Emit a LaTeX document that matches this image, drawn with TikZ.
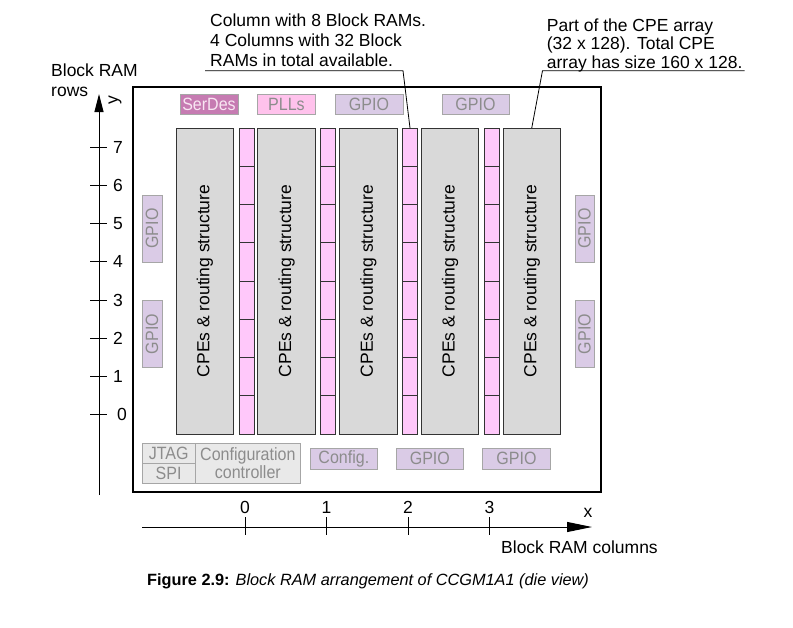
\documentclass[tikz,border=0pt]{standalone}
\usepackage{fontspec}
\setmainfont{Liberation Sans}
\newfontfamily\narrowfont[FakeStretch=0.9]{Liberation Sans}
\usepackage{tikz}
\usetikzlibrary{calc}
\usetikzlibrary{arrows.meta}

\definecolor{cpegray}{HTML}{D9D9D9}
\definecolor{brampink}{HTML}{FFC8FA}
\definecolor{serdesmauve}{HTML}{C67BB2}
\definecolor{serdestext}{HTML}{F8E6F2}
\definecolor{pllpink}{HTML}{FFC2EC}
\definecolor{gpiolav}{HTML}{DACBE6}
\definecolor{ctrlgray}{HTML}{E9E9E9}
\definecolor{boxline}{HTML}{A6A6A6}
\definecolor{labelgray}{HTML}{8C8C8C}
\definecolor{cellline}{HTML}{333333}

\newcommand{\bigfont}{\fontsize{17.5}{20}\selectfont}
\newcommand{\boxfont}{\narrowfont\fontsize{17.8}{17.5}\selectfont}

\tikzset{
  cpe/.style={draw=cellline, fill=cpegray, line width=0.9pt, outer sep=0pt, inner sep=0pt,
    minimum width=57.5pt, minimum height=306pt, font=\bigfont},
  bram/.style={draw=cellline, fill=brampink, line width=0.9pt, outer sep=0pt, inner sep=0pt,
    minimum width=15pt, minimum height=306pt},
  io/.style={draw=boxline, line width=0.8pt, outer sep=0pt, inner sep=0pt,
    text=labelgray, font=\boxfont},
  gpio/.style={io, fill=gpiolav},
  ctrl/.style={io, fill=ctrlgray},
  axnum/.style={font=\fontsize{17.5}{17.5}\selectfont, inner sep=0pt},
}

\begin{document}
\begin{tikzpicture}[x=1pt,y=-1pt]
        \useasboundingbox (0,0) rectangle (793,627);
        \def\pitch{81.75}
        \def\rowh{38.25}

        % die outline
        \draw[line width=1.1pt] (133,87) rectangle (601,492);

        % CPE columns and block RAM columns
        \foreach \i in {0,...,4}
          \node[cpe] (cpe\i) at ({204.75+\i*\pitch},281) {\rotatebox{90}{CPEs \& routing structure}};
        \foreach \i in {0,...,3} {
          \node[bram] (bram\i) at ({246.5+\i*\pitch},281) {};
          \foreach \k in {1,...,7}
            \draw[cellline, line width=0.9pt] ($(bram\i.north west)+(0,\k*\rowh)$) -- ($(bram\i.north east)+(0,\k*\rowh)$);
        }

        % top row
        \node[io, fill=serdesmauve, text=serdestext, minimum width=58pt, minimum height=20pt] (serdes) at (209,104.4) {SerDes};
        \node[io, fill=pllpink, minimum width=58.5pt, minimum height=20pt] (plls) at (286.5,104.4) {PLLs};
        \node[gpio, minimum width=68pt, minimum height=20pt] (gpiot0) at (369,104.4) {GPIO};
        \node[gpio, minimum width=67pt, minimum height=20pt] (gpiot1) at (475.5,104.4) {GPIO};

        % side GPIOs
        \node[gpio, minimum width=20pt, minimum height=67pt] (gpiol0) at (152,228.5) {\rotatebox{90}{GPIO}};
        \node[gpio, minimum width=20pt, minimum height=67pt] (gpiol1) at (152,334) {\rotatebox{90}{GPIO}};
        \node[gpio, minimum width=19pt, minimum height=67pt] (gpior0) at (584.5,228.5) {\rotatebox{90}{GPIO}};
        \node[gpio, minimum width=19pt, minimum height=67pt] (gpior1) at (584.5,334) {\rotatebox{90}{GPIO}};

        % bottom row
        \node[ctrl, minimum width=52.7pt, minimum height=20pt] (jtag) at (168.65,453.3) {JTAG};
        \node[ctrl, minimum width=52.7pt, minimum height=20pt] (spi) at (168.65,473.3) {SPI};
        \node[ctrl, align=center, minimum width=105.7pt, minimum height=40pt] (cfgctl) at (247.85,463.3) {Configuration\\controller};
        \node[gpio, minimum width=67.7pt, minimum height=20.7pt] (config) at (343.85,458.65) {Config.};
        \node[gpio, minimum width=67.7pt, minimum height=20.7pt] (gpiob0) at (429.85,458.65) {GPIO};
        \node[gpio, minimum width=67.7pt, minimum height=20.7pt] (gpiob1) at (516.5,458.65) {GPIO};

        % y axis: block RAM rows
        \coordinate (ybot) at (99,495);
        \coordinate (ytop) at (99,94);
        \draw[line width=1pt, -{Triangle[length=18pt,width=9pt]}] (ybot) -- (ytop);
        \node[font=\bigfont, rotate=90] (ylab) at (115,100) {y};
        \node[font=\bigfont, align=left, anchor=south west, inner sep=0pt, text depth=0pt] (rowtitle) at (51,96.7) {Block RAM\\rows};
        \foreach \k/\nx in {0/117,1/113,2/113,3/113,4/113,5/113,6/113,7/113} {
          \draw[line width=1pt] (90,{434-\rowh*(\k+0.5)}) -- (107,{434-\rowh*(\k+0.5)});
          \node[axnum, anchor=west] (row\k) at (\nx,{434-\rowh*(\k+0.5)}) {\k};
        }

        % x axis: block RAM columns
        \coordinate (xl) at (142,527);
        \coordinate (xr) at (592,527);
        \draw[line width=1pt, -{Triangle[length=25pt,width=10pt]}] (xl) -- (xr);
        \foreach \i in {0,...,3} {
          \draw[line width=1pt] ({245+81.5*\i},517) -- ({245+81.5*\i},535);
          \node[axnum] (col\i) at ({245+81.5*\i},507) {\i};
        }
        \node[font=\bigfont] (xlab) at (588,513) {x};
        \node[font=\bigfont, anchor=west, inner sep=0pt] (coltitle) at (501,547) {Block RAM columns};

        % annotations
        \node[font=\bigfont, align=left, anchor=south west, inner sep=0pt, text depth=0pt] (ann1) at (210,66.7)
          {Column with 8 Block RAMs.\\4 Columns with 32 Block\\RAMs in total available.};
        \coordinate (u1a) at (205,70.7);
        \coordinate (u1b) at (403,70.7);
        \draw[line width=0.8pt] (u1a) -- (u1b) -- (bram2.north);

        \node[font=\fontsize{17.5}{18.3}\selectfont, align=left, anchor=south west, inner sep=0pt, text depth=0pt] (ann2) at (546.7,68.3)
          {Part of the CPE array\\(32 x 128). Total CPE\\array has size 160 x 128.};
        \coordinate (u2a) at (542.5,70.7);
        \coordinate (u2b) at (744.6,70.7);
        \draw[line width=0.8pt] (u2b) -- (u2a) -- (cpe4.north);

        % caption
        \node[font=\fontsize{16.3}{16}\selectfont, anchor=base west, inner sep=0pt] (caption) at (147,585.7)
          {\textbf{Figure 2.9:} \textit{Block RAM arrangement of CCGM1A1 (die view)}};
    \end{tikzpicture}
\end{document}
